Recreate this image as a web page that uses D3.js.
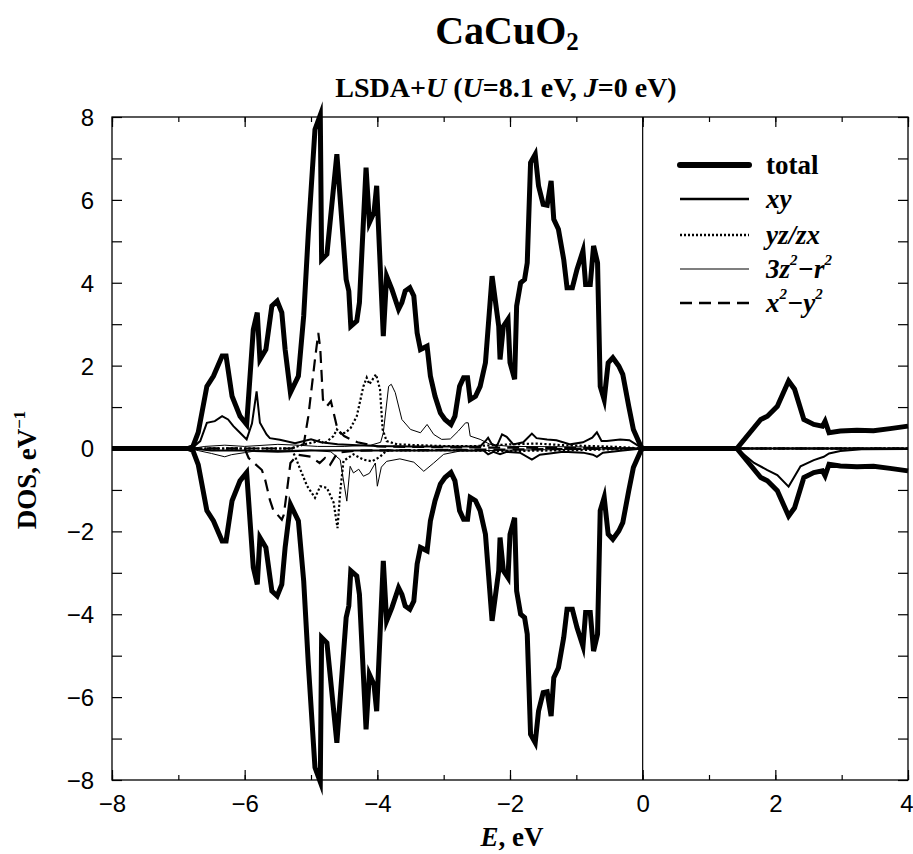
<!DOCTYPE html>
<html><head><meta charset="utf-8">
<script src="https://cdn.jsdelivr.net/npm/d3@7"></script>
<style>body{margin:0;background:#fff}</style>
</head><body>
<svg id="c" width="913" height="854"></svg>
<script>
// ---- data: [E (eV), DOS (1/eV)] ----
const totalUp = [[-8,0],[-6.85,0],[-6.78,0.05],[-6.70,0.39],[-6.57,1.5],[-6.47,1.75],[-6.34,2.23],[-6.28,2.23],[-6.19,1.26],[-6.07,0.78],[-5.97,0.58],[-5.87,2.87],[-5.81,3.28],[-5.77,2.15],[-5.68,2.39],[-5.59,3.44],[-5.51,3.56],[-5.44,3.28],[-5.39,2.39],[-5.31,1.35],[-5.19,1.75],[-5.11,3.2],[-5.04,5.21],[-4.94,7.7],[-4.86,8.05],[-4.84,4.56],[-4.76,4.69],[-4.61,7.1],[-4.47,4.08],[-4.43,3.8],[-4.40,2.95],[-4.31,3.08],[-4.27,3.52],[-4.17,6.78],[-4.12,5.45],[-4.05,5.7],[-4.01,6.34],[-3.91,2.71],[-3.86,4.16],[-3.78,3.84],[-3.68,3.36],[-3.63,3.52],[-3.58,3.8],[-3.51,3.88],[-3.45,3.68],[-3.40,2.79],[-3.35,2.39],[-3.25,2.47],[-3.20,1.75],[-3.13,1.26],[-3.05,0.86],[-2.98,0.70],[-2.89,0.58],[-2.83,0.78],[-2.76,1.5],[-2.70,1.71],[-2.64,1.71],[-2.60,1.18],[-2.52,1.26],[-2.45,1.5],[-2.37,2.07],[-2.27,4.16],[-2.17,2.95],[-2.15,2.15],[-2.10,2.95],[-2.03,3.12],[-2.0,2.07],[-1.93,1.67],[-1.90,3.44],[-1.84,4.0],[-1.78,4.08],[-1.74,4.48],[-1.69,6.9],[-1.62,7.1],[-1.57,6.34],[-1.50,5.89],[-1.44,5.87],[-1.38,6.46],[-1.34,5.53],[-1.27,5.29],[-1.19,4.56],[-1.14,3.88],[-1.06,3.88],[-0.99,4.32],[-0.90,4.77],[-0.86,3.96],[-0.79,3.96],[-0.74,4.89],[-0.68,4.48],[-0.64,1.5],[-0.58,1.18],[-0.52,2.07],[-0.45,2.19],[-0.36,1.99],[-0.30,1.79],[-0.21,1.02],[-0.14,0.46],[-0.03,0.06],[0,0],[1.42,0],[1.78,0.70],[1.88,0.78],[2.03,1.02],[2.20,1.63],[2.29,1.43],[2.43,0.70],[2.58,0.58],[2.71,0.54],[2.75,0.66],[2.81,0.38],[2.98,0.42],[3.23,0.44],[3.48,0.43],[3.73,0.48],[4.0,0.54]];
const totalDown = [[-8,0],[-6.85,0],[-6.78,-0.05],[-6.70,-0.39],[-6.57,-1.5],[-6.47,-1.75],[-6.34,-2.23],[-6.28,-2.23],[-6.19,-1.26],[-6.07,-0.78],[-5.97,-0.58],[-5.87,-2.87],[-5.81,-3.28],[-5.77,-2.15],[-5.68,-2.39],[-5.59,-3.44],[-5.51,-3.56],[-5.44,-3.28],[-5.39,-2.39],[-5.31,-1.35],[-5.19,-1.75],[-5.11,-3.2],[-5.04,-5.21],[-4.94,-7.7],[-4.86,-8.05],[-4.84,-4.56],[-4.76,-4.69],[-4.61,-7.1],[-4.47,-4.08],[-4.43,-3.8],[-4.40,-2.95],[-4.31,-3.08],[-4.27,-3.52],[-4.17,-6.78],[-4.12,-5.45],[-4.05,-5.7],[-4.01,-6.34],[-3.91,-2.71],[-3.86,-4.16],[-3.78,-3.84],[-3.68,-3.36],[-3.63,-3.52],[-3.58,-3.8],[-3.51,-3.88],[-3.45,-3.68],[-3.40,-2.79],[-3.35,-2.39],[-3.25,-2.47],[-3.20,-1.75],[-3.13,-1.26],[-3.05,-0.86],[-2.98,-0.70],[-2.89,-0.58],[-2.83,-0.78],[-2.76,-1.5],[-2.70,-1.71],[-2.64,-1.71],[-2.60,-1.18],[-2.52,-1.26],[-2.45,-1.5],[-2.37,-2.07],[-2.27,-4.16],[-2.17,-2.95],[-2.15,-2.15],[-2.10,-2.95],[-2.03,-3.12],[-2.0,-2.07],[-1.93,-1.67],[-1.90,-3.44],[-1.84,-4.0],[-1.78,-4.08],[-1.74,-4.48],[-1.69,-6.9],[-1.62,-7.1],[-1.57,-6.34],[-1.50,-5.89],[-1.44,-5.87],[-1.38,-6.46],[-1.34,-5.53],[-1.27,-5.29],[-1.19,-4.56],[-1.14,-3.88],[-1.06,-3.88],[-0.99,-4.32],[-0.90,-4.77],[-0.86,-3.96],[-0.79,-3.96],[-0.74,-4.89],[-0.68,-4.48],[-0.64,-1.5],[-0.58,-1.18],[-0.52,-2.07],[-0.45,-2.19],[-0.36,-1.99],[-0.30,-1.79],[-0.21,-1.02],[-0.14,-0.46],[-0.03,-0.06],[0,0],[1.42,0],[1.78,-0.70],[1.88,-0.78],[2.03,-1.02],[2.20,-1.63],[2.29,-1.43],[2.43,-0.70],[2.58,-0.58],[2.71,-0.54],[2.75,-0.66],[2.81,-0.38],[2.98,-0.42],[3.23,-0.44],[3.48,-0.43],[3.73,-0.48],[4.0,-0.54]];
const xyUp = [[-8,0],[-6.8,0],[-6.67,0.18],[-6.57,0.62],[-6.45,0.66],[-6.34,0.78],[-6.25,0.7],[-6.17,0.54],[-6.07,0.38],[-5.97,0.22],[-5.89,0.6],[-5.82,1.38],[-5.77,0.62],[-5.67,0.34],[-5.62,0.25],[-5.47,0.21],[-5.24,0.13],[-5.0,0.22],[-4.85,0.15],[-4.6,0.1],[-4.3,0.08],[-4.0,0.06],[-3.5,0.05],[-2.45,0.05],[-2.37,0.18],[-2.33,0.26],[-2.28,0.12],[-2.2,0.05],[-2.12,0.34],[-2.05,0.28],[-1.95,0.1],[-1.8,0.15],[-1.67,0.36],[-1.6,0.25],[-1.44,0.22],[-1.3,0.2],[-1.09,0.1],[-0.9,0.15],[-0.76,0.26],[-0.69,0.39],[-0.62,0.18],[-0.54,0.18],[-0.34,0.22],[-0.2,0.2],[-0.1,0.1],[0,0],[4,0]];
const xyDown = [[-8,0],[-6.8,0],[-6.5,-0.05],[-6.0,-0.05],[-5.5,-0.08],[-5.0,-0.05],[-4.5,-0.05],[-4.0,-0.05],[-3.0,-0.05],[-2.4,-0.05],[-2.33,-0.14],[-2.25,-0.08],[-2.15,-0.14],[-2.05,-0.08],[-1.85,-0.1],[-1.67,-0.27],[-1.55,-0.15],[-1.4,-0.12],[-1.2,-0.08],[-0.9,-0.1],[-0.75,-0.15],[-0.69,-0.2],[-0.6,-0.1],[-0.3,-0.05],[0,0],[1.42,0],[1.68,-0.35],[1.88,-0.52],[2.03,-0.64],[2.20,-0.92],[2.38,-0.43],[2.58,-0.28],[2.73,-0.2],[2.81,-0.12],[2.98,-0.06],[3.3,-0.02],[4,-0.01]];
const yzUp = [[-8,0],[-5.3,0],[-5.11,0.1],[-4.95,0.15],[-4.87,0.2],[-4.8,0.12],[-4.66,0.3],[-4.61,0.46],[-4.55,0.36],[-4.48,0.38],[-4.4,0.5],[-4.31,0.78],[-4.21,1.5],[-4.16,1.71],[-4.12,1.55],[-4.02,1.79],[-3.96,1.43],[-3.92,0.46],[-3.86,0.18],[-3.7,0.1],[-3.4,0.08],[-3.0,0.06],[-2.5,0.06],[-2.0,0.1],[-1.6,0.12],[-1.2,0.08],[-0.8,0.06],[-0.4,0.04],[0,0],[4,0]];
const yzDown = [[-8,0],[-5.3,0],[-5.24,-0.19],[-5.16,-0.51],[-5.06,-0.9],[-4.94,-1.19],[-4.86,-0.91],[-4.76,-0.95],[-4.66,-1.3],[-4.60,-1.92],[-4.56,-1.05],[-4.51,-0.3],[-4.36,-0.14],[-4.21,-0.27],[-4.08,-0.31],[-3.96,-0.2],[-3.86,-0.05],[-3.0,-0.04],[-2.0,-0.06],[-1.0,-0.04],[0,0],[4,0]];
const z2Up = [[-8,0],[-6.8,0],[-6.6,0.05],[-6.3,0.08],[-6.0,0.05],[-5.5,0.1],[-5.2,0.08],[-4.9,0.05],[-4.5,0.05],[-4.1,0.08],[-3.95,0.15],[-3.91,0.38],[-3.83,1.5],[-3.79,1.55],[-3.73,1.35],[-3.63,0.70],[-3.50,0.46],[-3.35,0.38],[-3.25,0.58],[-3.15,0.34],[-3.03,0.22],[-2.90,0.23],[-2.78,0.42],[-2.67,0.62],[-2.63,0.62],[-2.60,0.30],[-2.45,0.22],[-2.30,0.1],[-2.0,0.05],[-1.0,0.04],[0,0],[4,0]];
const z2Down = [[-8,0],[-6.85,0],[-6.7,-0.05],[-6.5,-0.12],[-6.3,-0.2],[-6.2,-0.15],[-6.0,-0.1],[-5.8,-0.05],[-5.0,-0.04],[-4.7,-0.08],[-4.56,-0.27],[-4.46,-1.27],[-4.41,-0.43],[-4.36,-0.59],[-4.28,-0.5],[-4.21,-0.67],[-4.12,-0.6],[-4.03,-0.35],[-4.00,-0.91],[-3.94,-0.45],[-3.86,-0.31],[-3.66,-0.25],[-3.45,-0.33],[-3.30,-0.55],[-3.15,-0.35],[-3.0,-0.14],[-2.75,-0.06],[-2.0,-0.04],[0,0],[4,0]];
const x2Up = [[-8,0],[-5.3,0],[-5.11,0.1],[-5.04,0.78],[-4.94,2.15],[-4.89,2.79],[-4.86,2.4],[-4.82,1.18],[-4.76,1.02],[-4.70,1.14],[-4.60,0.46],[-4.5,0.3],[-4.4,0.22],[-4.3,0.15],[-4.0,0.05],[-3.0,0.03],[0,0],[4,0]];
const x2Down = [[-8,0],[-6.0,0],[-5.94,-0.23],[-5.74,-0.52],[-5.69,-0.76],[-5.62,-1.24],[-5.57,-1.48],[-5.44,-1.72],[-5.41,-1.6],[-5.36,-0.99],[-5.31,-0.35],[-5.2,-0.15],[-5.0,-0.2],[-4.87,-0.35],[-4.79,-0.23],[-4.71,-0.39],[-4.6,-0.1],[-4.3,-0.05],[0,0],[4,0]];

const legendLabels = ["total","xy","yz/zx","3z2-r2","x2-y2"];
const xTicks = [-8,-6,-4,-2,0,2,4];
const yTicks = [-8,-6,-4,-2,0,2,4,6,8];

// ---- layout ----
const svg = d3.select("#c");
const L = 112, R = 908, T = 117, B = 780;
const x = d3.scaleLinear().domain([-8,4]).range([L,R]);
const y = d3.scaleLinear().domain([-8,8]).range([B,T]);
const serif = "'Liberation Serif','Times New Roman',serif";
const sans = "'Liberation Sans',Arial,sans-serif";

const styles = {
  total:{w:5,dash:null},
  xy:{w:2,dash:null},
  yz:{w:2.2,dash:"2.2,2.2"},
  z2:{w:1,dash:null},
  x2:{w:2.2,dash:"12,7"}
};

const line = d3.line().x(d=>x(d[0])).y(d=>y(d[1]));
const g = svg.append("g");
function draw(data, st){
  g.append("path").datum(data).attr("d",line).attr("fill","none")
   .attr("stroke","#000").attr("stroke-width",st.w)
   .attr("stroke-linejoin","miter").attr("stroke-miterlimit",6)
   .attr("stroke-dasharray",st.dash);
}
draw(totalUp,styles.total); draw(totalDown,styles.total);
draw(xyUp,styles.xy); draw(xyDown,styles.xy);
draw(yzUp,styles.yz); draw(yzDown,styles.yz);
draw(z2Up,styles.z2); draw(z2Down,styles.z2);
draw(x2Up,styles.x2); draw(x2Down,styles.x2);

// vertical line at E=0
svg.append("line").attr("x1",x(0)).attr("x2",x(0)).attr("y1",T).attr("y2",B).attr("stroke","#000").attr("stroke-width",1.2);

// frame
svg.append("rect").attr("x",L).attr("y",T).attr("width",R-L).attr("height",B-T)
  .attr("fill","none").attr("stroke","#000").attr("stroke-width",1.3);

// axes (ticks inward)
const fmt = d=>d<0?"\u2212"+(-d):d;
const xMinor = d3.range(-8,5,1);
const yAll = d3.range(-8,9,1);
svg.append("g").attr("transform",`translate(0,${B})`)
  .call(d3.axisBottom(x).tickValues(xMinor).tickSize(-5).tickFormat(""));
const axBm = svg.append("g").attr("transform",`translate(0,${B})`)
  .call(d3.axisBottom(x).tickValues(xTicks).tickSize(-10).tickPadding(15).tickFormat(fmt));
svg.append("g").attr("transform",`translate(0,${T})`)
  .call(d3.axisTop(x).tickValues(xMinor).tickSize(-5).tickFormat(""));
svg.append("g").attr("transform",`translate(0,${T})`)
  .call(d3.axisTop(x).tickValues(xTicks).tickSize(-10).tickFormat(""));
svg.append("g").attr("transform",`translate(${L},0)`)
  .call(d3.axisLeft(y).tickValues(yAll).tickSize(-10).tickFormat(""));
const axLm = svg.append("g").attr("transform",`translate(${L},0)`)
  .call(d3.axisLeft(y).tickValues(yTicks).tickSize(0).tickPadding(18).tickFormat(fmt));
svg.append("g").attr("transform",`translate(${R},0)`)
  .call(d3.axisRight(y).tickValues(yAll).tickSize(-10).tickFormat(""));
svg.selectAll(".domain").remove();
svg.selectAll(".tick line").attr("stroke","#000").attr("stroke-width",1.2);
svg.selectAll(".tick text").attr("font-family",sans).attr("font-size",24).attr("fill","#000");
axLm.selectAll(".tick text").attr("dy","0.35em");
// keep the last x label inside the picture
axBm.selectAll(".tick text").filter(d=>d===4).attr("text-anchor","end").attr("x",5);

// titles
const title = svg.append("text").attr("x",507).attr("y",44).attr("text-anchor","middle")
  .attr("font-family",serif).attr("font-weight","bold").attr("font-size",40);
title.append("tspan").text("CaCuO");
title.append("tspan").attr("font-size",25).attr("dy",6).text("2");

const sub = svg.append("text").attr("x",506).attr("y",97).attr("text-anchor","middle")
  .attr("font-family",serif).attr("font-weight","bold").attr("font-size",28);
sub.append("tspan").text("LSDA+");
sub.append("tspan").attr("font-style","italic").text("U");
sub.append("tspan").text(" (");
sub.append("tspan").attr("font-style","italic").text("U");
sub.append("tspan").text("=8.1 eV, ");
sub.append("tspan").attr("font-style","italic").text("J");
sub.append("tspan").text("=0 eV)");

// axis labels
const xl = svg.append("text").attr("x",512).attr("y",846).attr("text-anchor","middle")
  .attr("font-family",serif).attr("font-weight","bold").attr("font-size",27);
xl.append("tspan").attr("font-style","italic").text("E");
xl.append("tspan").text(", eV");

const yl = svg.append("text").attr("transform",`translate(36,470) rotate(-90)`).attr("text-anchor","middle")
  .attr("font-family",serif).attr("font-weight","bold").attr("font-size",27);
yl.append("tspan").text("DOS, eV");
yl.append("tspan").attr("font-size",17).attr("dy",-11).text("\u22121");

// legend
const legStyles = [styles.total,styles.xy,styles.yz,styles.z2,styles.x2];
const legY = [165,199,235,269,303];
const lg = svg.append("g");
legendLabels.forEach((lab,i)=>{
  const st = legStyles[i];
  lg.append("line").attr("x1",680).attr("x2",749).attr("y1",legY[i]).attr("y2",legY[i])
    .attr("stroke","#000").attr("stroke-width",i===0?6:(i===3?1.2:2.4))
    .attr("stroke-linecap",i===0?"round":"butt")
    .attr("stroke-dasharray",i===2?"2,2":st.dash);
  const t = lg.append("text").attr("x",766).attr("y",legY[i]+9).attr("font-family",serif)
    .attr("font-weight","bold").attr("font-size",27);
  if(i===0){ t.text("total"); }
  else if(i===1||i===2){ t.attr("font-style","italic").text(lab); }
  else {
    t.attr("font-style","italic");
    const a = lab.split("2");
    t.append("tspan").text(a[0]);
    t.append("tspan").attr("font-size",15).attr("dy",-13).text("2");
    t.append("tspan").attr("dy",13).text("\u2212"+a[1].replace("-",""));
    t.append("tspan").attr("font-size",15).attr("dy",-13).text("2");
  }
});
</script>
</body></html>
